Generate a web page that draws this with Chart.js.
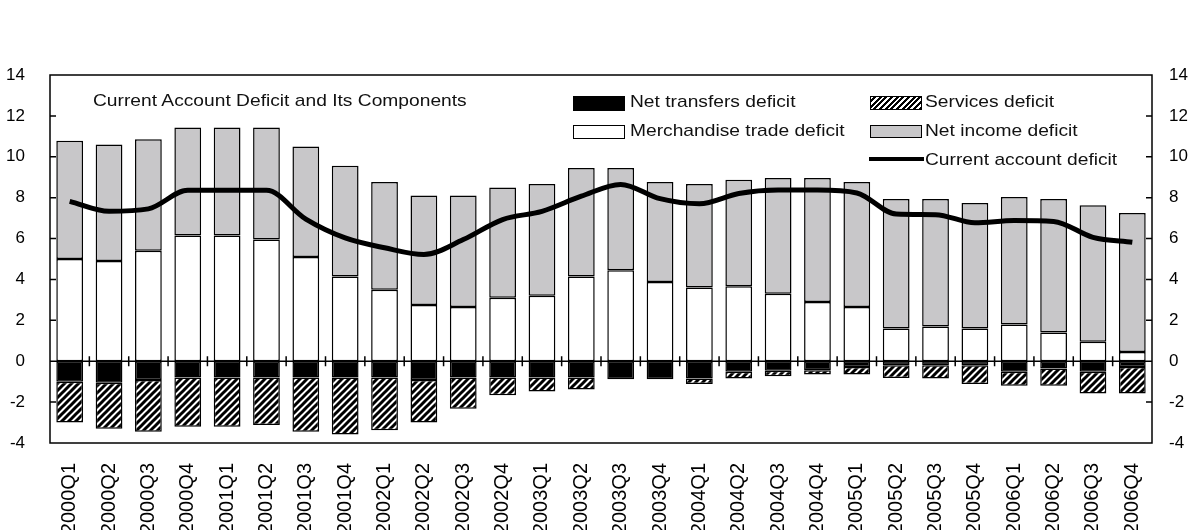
<!DOCTYPE html>
<html>
<head>
<meta charset="utf-8">
<script src="https://cdn.jsdelivr.net/npm/chart.js@4/dist/chart.umd.min.js"></script>
<style>
  body { margin: 0; background: #fff; font-family: "Liberation Sans", Arial, sans-serif; }
  #wrap { position: relative; width: 1197px; height: 530px; }
  .txt { position: absolute; font-size: 17px; color: #111; white-space: nowrap; transform: scaleX(1.13); transform-origin: left center; line-height: 20px; }
  .sw { position: absolute; box-sizing: border-box; border: 1.5px solid #000; }
</style>
</head>
<body>
<div id="wrap">
  <canvas id="chart"></canvas>
  <div class="txt" style="left:93px; top:91px;">Current Account Deficit and Its Components</div>

  <div class="sw" style="left:573px; top:96px; width:52px; height:15px; background:#000;"></div>
  <div class="txt" style="left:630px; top:92px;">Net transfers deficit</div>
  <div class="sw" style="left:870px; top:96px; width:52px; height:14px; background:repeating-linear-gradient(-45deg, #000 0 2px, #fff 2px 4px);"></div>
  <div class="txt" style="left:925px; top:92px;">Services deficit</div>

  <div class="sw" style="left:573px; top:125px; width:52px; height:14px; background:#fff;"></div>
  <div class="txt" style="left:630px; top:121px;">Merchandise trade deficit</div>
  <div class="sw" style="left:870px; top:125px; width:52px; height:13px; background:#c8c7c9;"></div>
  <div class="txt" style="left:925px; top:121px;">Net income deficit</div>

  <div style="position:absolute; left:869px; top:157px; width:55px; height:4px; background:#000;"></div>
  <div class="txt" style="left:925px; top:150px;">Current account deficit</div>
</div>
<script>
"use strict";

const quarters = [
    "2000Q1", "2000Q2", "2000Q3", "2000Q4",
    "2001Q1", "2001Q2", "2001Q3", "2001Q4",
    "2002Q1", "2002Q2", "2002Q3", "2002Q4",
    "2003Q1", "2003Q2", "2003Q3", "2003Q4",
    "2004Q1", "2004Q2", "2004Q3", "2004Q4",
    "2005Q1", "2005Q2", "2005Q3", "2005Q4",
    "2006Q1", "2006Q2", "2006Q3", "2006Q4"
];

// stacked above zero
const merchandise = [5.0, 4.9, 5.4, 6.15, 6.15, 5.95, 5.1, 4.15, 3.5, 2.75, 2.65, 3.1, 3.2, 4.15,
    4.45, 3.87, 3.6, 3.67, 3.3, 2.9, 2.65, 1.6, 1.7, 1.6, 1.8, 1.4, 0.95, 0.45];
const netIncome = [5.78, 5.7, 5.46, 5.28, 5.28, 5.48, 5.4, 5.41, 5.27, 5.36, 5.46, 5.4, 5.47, 5.3,
    5.0, 4.9, 5.07, 5.21, 5.66, 6.06, 6.12, 6.34, 6.24, 6.14, 6.23, 6.54, 6.68, 6.8];

// stacked below zero
const netTransfers = [-1.0, -1.05, -0.92, -0.8, -0.8, -0.8, -0.8, -0.8, -0.8, -0.92, -0.8, -0.8, -0.8, -0.8,
    -0.88, -0.88, -0.85, -0.52, -0.47, -0.44, -0.28, -0.2, -0.2, -0.2, -0.52, -0.36, -0.52, -0.28];
const services = [-2.0, -2.25, -2.53, -2.4, -2.4, -2.32, -2.65, -2.78, -2.58, -2.08, -1.53, -0.87, -0.68, -0.58,
    0, 0, -0.27, -0.33, -0.26, -0.21, -0.37, -0.62, -0.65, -0.92, -0.68, -0.84, -1.06, -1.3];

const currentAccount = [7.82, 7.33, 7.45, 8.36, 8.36, 8.36, 6.95, 6.03, 5.55, 5.22, 5.95, 6.93, 7.33, 8.07,
    8.65, 7.95, 7.7, 8.2, 8.37, 8.37, 8.23, 7.2, 7.17, 6.77, 6.88, 6.84, 6.06, 5.82];

const yMin = -4;
const yMax = 14;
const yStep = 2;

function hatchPattern() {
    const c = document.createElement("canvas");
    const s = 7;
    c.width = s;
    c.height = s;
    const g = c.getContext("2d");
    g.fillStyle = "#fff";
    g.fillRect(0, 0, s, s);
    g.strokeStyle = "#000";
    g.lineWidth = 3;
    g.beginPath();
    g.moveTo(-1, s + 1);
    g.lineTo(s + 1, -1);
    g.moveTo(-2, 2);
    g.lineTo(2, -2);
    g.moveTo(s - 2, s + 2);
    g.lineTo(s + 2, s - 2);
    g.stroke();
    return g.createPattern(c, "repeat");
}

// frame, zero line and the small inward ticks
const framePlugin = {
    id: "frame",
    afterDatasetsDraw(chart) {
        const ctx = chart.ctx;
        const a = chart.chartArea;
        const y = chart.scales.y;
        const x = chart.scales.x;
        ctx.save();
        ctx.strokeStyle = "#000";
        ctx.lineWidth = 1.5;
        ctx.strokeRect(a.left, a.top, a.right - a.left, a.bottom - a.top);

        const y0 = y.getPixelForValue(0);
        ctx.beginPath();
        ctx.moveTo(a.left, y0);
        ctx.lineTo(a.right, y0);
        for (let v = yMin + yStep; v < yMax; v += yStep) {
            const py = y.getPixelForValue(v);
            ctx.moveTo(a.left, py);
            ctx.lineTo(a.left + 6, py);
            ctx.moveTo(a.right, py);
            ctx.lineTo(a.right - 6, py);
        }
        for (let i = 0; i < quarters.length - 1; i++) {
            const px = (x.getPixelForValue(i) + x.getPixelForValue(i + 1)) / 2;
            ctx.moveTo(px, y0 - 5);
            ctx.lineTo(px, y0 + 5);
        }
        ctx.stroke();
        ctx.restore();
    }
};

Chart.defaults.font.family = "'Liberation Sans', Arial, sans-serif";
Chart.defaults.color = "#000";

const barStyle = {
    type: "bar",
    stack: "parts",
    borderColor: "#000",
    borderWidth: 1.5,
    borderSkipped: false,
    barPercentage: 0.68,
    categoryPercentage: 1,
    order: 2
};

new Chart(document.getElementById("chart"), {
    data: {
        labels: quarters,
        datasets: [
            { ...barStyle, label: "Merchandise trade deficit", data: merchandise, backgroundColor: "#fff" },
            { ...barStyle, label: "Net income deficit", data: netIncome, backgroundColor: "#c8c7c9" },
            { ...barStyle, label: "Net transfers deficit", data: netTransfers, backgroundColor: "#000" },
            { ...barStyle, label: "Services deficit", data: services, backgroundColor: hatchPattern() },
            {
                type: "line",
                stack: "line",
                label: "Current account deficit",
                data: currentAccount,
                borderColor: "#000",
                borderWidth: 5,
                pointRadius: 0,
                cubicInterpolationMode: "monotone",
                order: 1
            }
        ]
    },
    options: {
        responsive: true,
        maintainAspectRatio: false,
        animation: false,
        layout: { padding: { top: 75, left: 0, right: 0, bottom: 0 } },
        plugins: { legend: { display: false }, tooltip: { enabled: false } },
        scales: {
            x: {
                stacked: true,
                grid: { display: false },
                border: { display: false },
                ticks: {
                    autoSkip: false,
                    minRotation: 90,
                    maxRotation: 90,
                    padding: 12,
                    font: { size: 20 }
                },
                afterFit(scale) { scale.height = 87; }
            },
            y: {
                stacked: true,
                min: yMin,
                max: yMax,
                grid: { display: false },
                border: { display: false },
                ticks: { stepSize: yStep, padding: 17, font: { size: 17 } },
                afterFit(scale) { scale.width = 50; }
            },
            y2: {
                position: "right",
                min: yMin,
                max: yMax,
                grid: { display: false },
                border: { display: false },
                ticks: { stepSize: yStep, padding: 9, font: { size: 17 } },
                afterFit(scale) { scale.width = 45; }
            }
        }
    },
    plugins: [framePlugin]
});
</script>
</body>
</html>
